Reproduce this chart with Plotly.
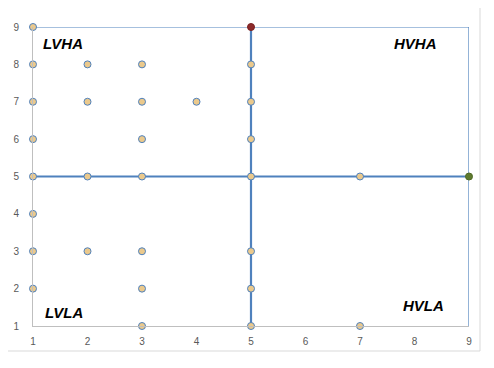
import plotly.graph_objects as go

# scatter points (x, y)
pts_x = [1, 1, 1, 1, 1, 1, 1, 1,
         2, 2, 2, 2,
         3, 3, 3, 3, 3, 3, 3,
         4,
         5, 5, 5, 5, 5, 5, 5,
         7, 7]
pts_y = [9, 8, 7, 6, 5, 4, 3, 2,
         8, 7, 5, 3,
         8, 7, 6, 5, 3, 2, 1,
         7,
         8, 7, 6, 5, 3, 2, 1,
         5, 1]
red_pt = (5, 9)
green_pt = (9, 5)
quad_labels = ["LVHA", "HVHA", "LVLA", "HVLA"]
quad_x = [1.55, 8.02, 1.57, 8.17]
quad_y = [8.55, 8.55, 1.35, 1.54]
ticks = [1, 2, 3, 4, 5, 6, 7, 8, 9]

BLUE = "#4f81bd"
fig = go.Figure()

# box top/right lines
fig.add_trace(go.Scatter(x=[1, 9, 9], y=[9, 9, 1], mode="lines",
                         line=dict(color=BLUE, width=1.2), hoverinfo="skip", showlegend=False))
# center cross lines
fig.add_trace(go.Scatter(x=[1, 9], y=[5, 5], mode="lines",
                         line=dict(color=BLUE, width=2.2), showlegend=False))
fig.add_trace(go.Scatter(x=[5, 5], y=[1, 9], mode="lines",
                         line=dict(color=BLUE, width=2.2), showlegend=False))

fig.add_trace(go.Scatter(x=pts_x, y=pts_y, mode="markers", cliponaxis=False,
                         marker=dict(size=7, color="#ebc98c", line=dict(color=BLUE, width=1)),
                         showlegend=False))
fig.add_trace(go.Scatter(x=[red_pt[0]], y=[red_pt[1]], mode="markers", cliponaxis=False,
                         marker=dict(size=7, color="#8c2a2a", line=dict(color="#7a2020", width=1)),
                         showlegend=False))
fig.add_trace(go.Scatter(x=[green_pt[0]], y=[green_pt[1]], mode="markers", cliponaxis=False,
                         marker=dict(size=7, color="#5f7a2e", line=dict(color="#4f6a26", width=1)),
                         showlegend=False))

for t, x, y in zip(quad_labels, quad_x, quad_y):
    fig.add_annotation(x=x, y=y, text="<b><i>" + t + "</i></b>", showarrow=False,
                       font=dict(family="Liberation Sans, Arial", size=15, color="black"))

axis_common = dict(showgrid=False, zeroline=False, showline=True, linecolor="#bfbfbf",
                   linewidth=1, ticks="", tickvals=ticks, automargin=False,
                   tickfont=dict(family="Liberation Sans, Arial", size=10, color="#595959"))
fig.update_xaxes(range=[1, 9], ticklabelstandoff=6, **axis_common)
fig.update_yaxes(range=[1, 9], ticklabelstandoff=11, **axis_common)

fig.add_shape(type="rect", xref="paper", yref="paper",
              x0=(1 - 33) / 436, x1=(480 - 33) / 436,
              y0=(326 - 351) / 299, y1=(326 - 1) / 299,
              line=dict(color="#d9d9d9", width=1), layer="below")

fig.update_layout(width=494, height=368, margin=dict(l=25, r=33, t=19, b=50),
                  plot_bgcolor="white", paper_bgcolor="white")
fig.write_html("out.html")
